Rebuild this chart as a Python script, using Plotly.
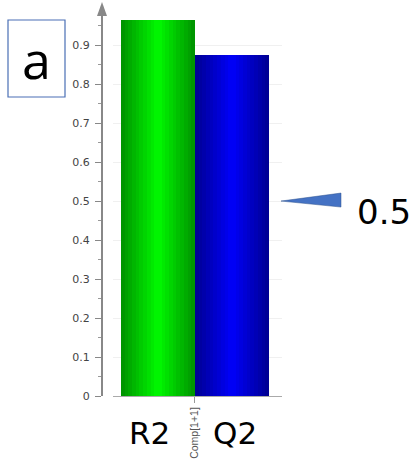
import plotly.graph_objects as go

# data
metrics = ["R2", "Q2"]
values = [0.964, 0.874]
component_label = "Comp[1+1]"
y_ticks = [0, 0.1, 0.2, 0.3, 0.4, 0.5, 0.6, 0.7, 0.8, 0.9]
y_tick_labels = ["0", "0.1", "0.2", "0.3", "0.4", "0.5", "0.6", "0.7", "0.8", "0.9"]
marker_value = 0.5
marker_label = "0.5"
panel_label = "a"

W, H = 415, 464
x_pos = [0, 1]

def lerp(c1, c2, t):
    return "rgb(%d,%d,%d)" % tuple(round(a + (b - a) * t) for a, b in zip(c1, c2))

edge_cols = [(0, 150, 0), (0, 0, 150)]
center_cols = [(0, 245, 0), (0, 0, 245)]

fig = go.Figure()
N = 10
for k in range(2):
    for i in range(N):
        t = i / (N - 1)
        w = 1.0 * (1 - i / N)
        fig.add_trace(go.Bar(
            x=[x_pos[k]], y=[values[k]], width=[w],
            marker=dict(color=lerp(edge_cols[k], center_cols[k], t), line=dict(width=0)),
            showlegend=False, hoverinfo="skip" if i else None, name=metrics[k],
        ))

xl, xr = 113 / W, 282 / W
yb, yt = (H - 396) / H, (H - 10) / H

fig.update_layout(
    width=W, height=H,
    margin=dict(l=0, r=0, t=0, b=0, autoexpand=False),
    paper_bgcolor="white", plot_bgcolor="white",
    barmode="overlay", bargap=0,
    xaxis=dict(
        domain=[xl, xr], range=[-0.608, 1.676],
        tickvals=[0.5], ticktext=[component_label], tickangle=-90,
        tickfont=dict(family="Liberation Sans", size=10.5, color="#555"),
        ticks="outside", ticklen=6, tickcolor="#999",
        showline=True, linecolor="#aaa", linewidth=1, automargin=False,
        showgrid=False, zeroline=False, fixedrange=True,
    ),
    yaxis=dict(
        domain=[yb, yt], range=[0, 0.99],
        anchor="free", position=102 / W, automargin=False,
        tickvals=y_ticks, ticktext=y_tick_labels,
        tickfont=dict(family="DejaVu Sans", size=11, color="#444"),
        ticks="outside", ticklen=6, tickcolor="#888", ticklabelstandoff=3,
        minor=dict(dtick=0.05, ticks="outside", ticklen=3, tickcolor="#999", showgrid=False),
        showline=True, linecolor="#888", linewidth=2,
        showgrid=True, gridcolor="#f0f0f0", gridwidth=1,
        zeroline=False, fixedrange=True,
    ),
)

# axis arrow head
ax_x = 102 / W
fig.add_shape(type="path", xref="paper", yref="paper",
              path=f"M {ax_x - 5/W} {1 - 16/H} L {ax_x} {1 - 2/H} L {ax_x + 5/W} {1 - 16/H} Z",
              fillcolor="#888", line=dict(width=0))

# category labels
label_off = [-0.115, 0.04]
for k in range(2):
    fig.add_annotation(x=x_pos[k] + label_off[k], y=(H - 433) / H, xref="x", yref="paper",
                       text=metrics[k], showarrow=False, xanchor="center", yanchor="middle",
                       font=dict(family="DejaVu Sans", size=31, color="black"))

# panel label box
fig.add_shape(type="rect", xref="paper", yref="paper",
              x0=8 / W, x1=65 / W, y0=1 - 97 / H, y1=1 - 20 / H,
              line=dict(color="#4a6fb5", width=1.2), fillcolor="white")
fig.add_annotation(x=36.5 / W, y=1 - 58 / H, xref="paper", yref="paper",
                   text=panel_label, showarrow=False, xanchor="center", yanchor="middle",
                   font=dict(family="Open Sans", size=52, color="black"))

# 0.5 marker triangle
fig.add_shape(type="path", xref="paper", yref="y",
              path=f"M {281/W} {marker_value} L {341/W} {marker_value + 8/390} L {341/W} {marker_value - 6/390} Z",
              fillcolor="#4472c4", line=dict(color="#2f528f", width=0.5))
fig.add_annotation(x=355 / W, y=marker_value, xref="paper", yref="y",
                   text=marker_label, showarrow=False, xanchor="left", yanchor="middle", yshift=-11,
                   font=dict(family="DejaVu Sans", size=34, color="black"))

fig.write_html("out.html")
